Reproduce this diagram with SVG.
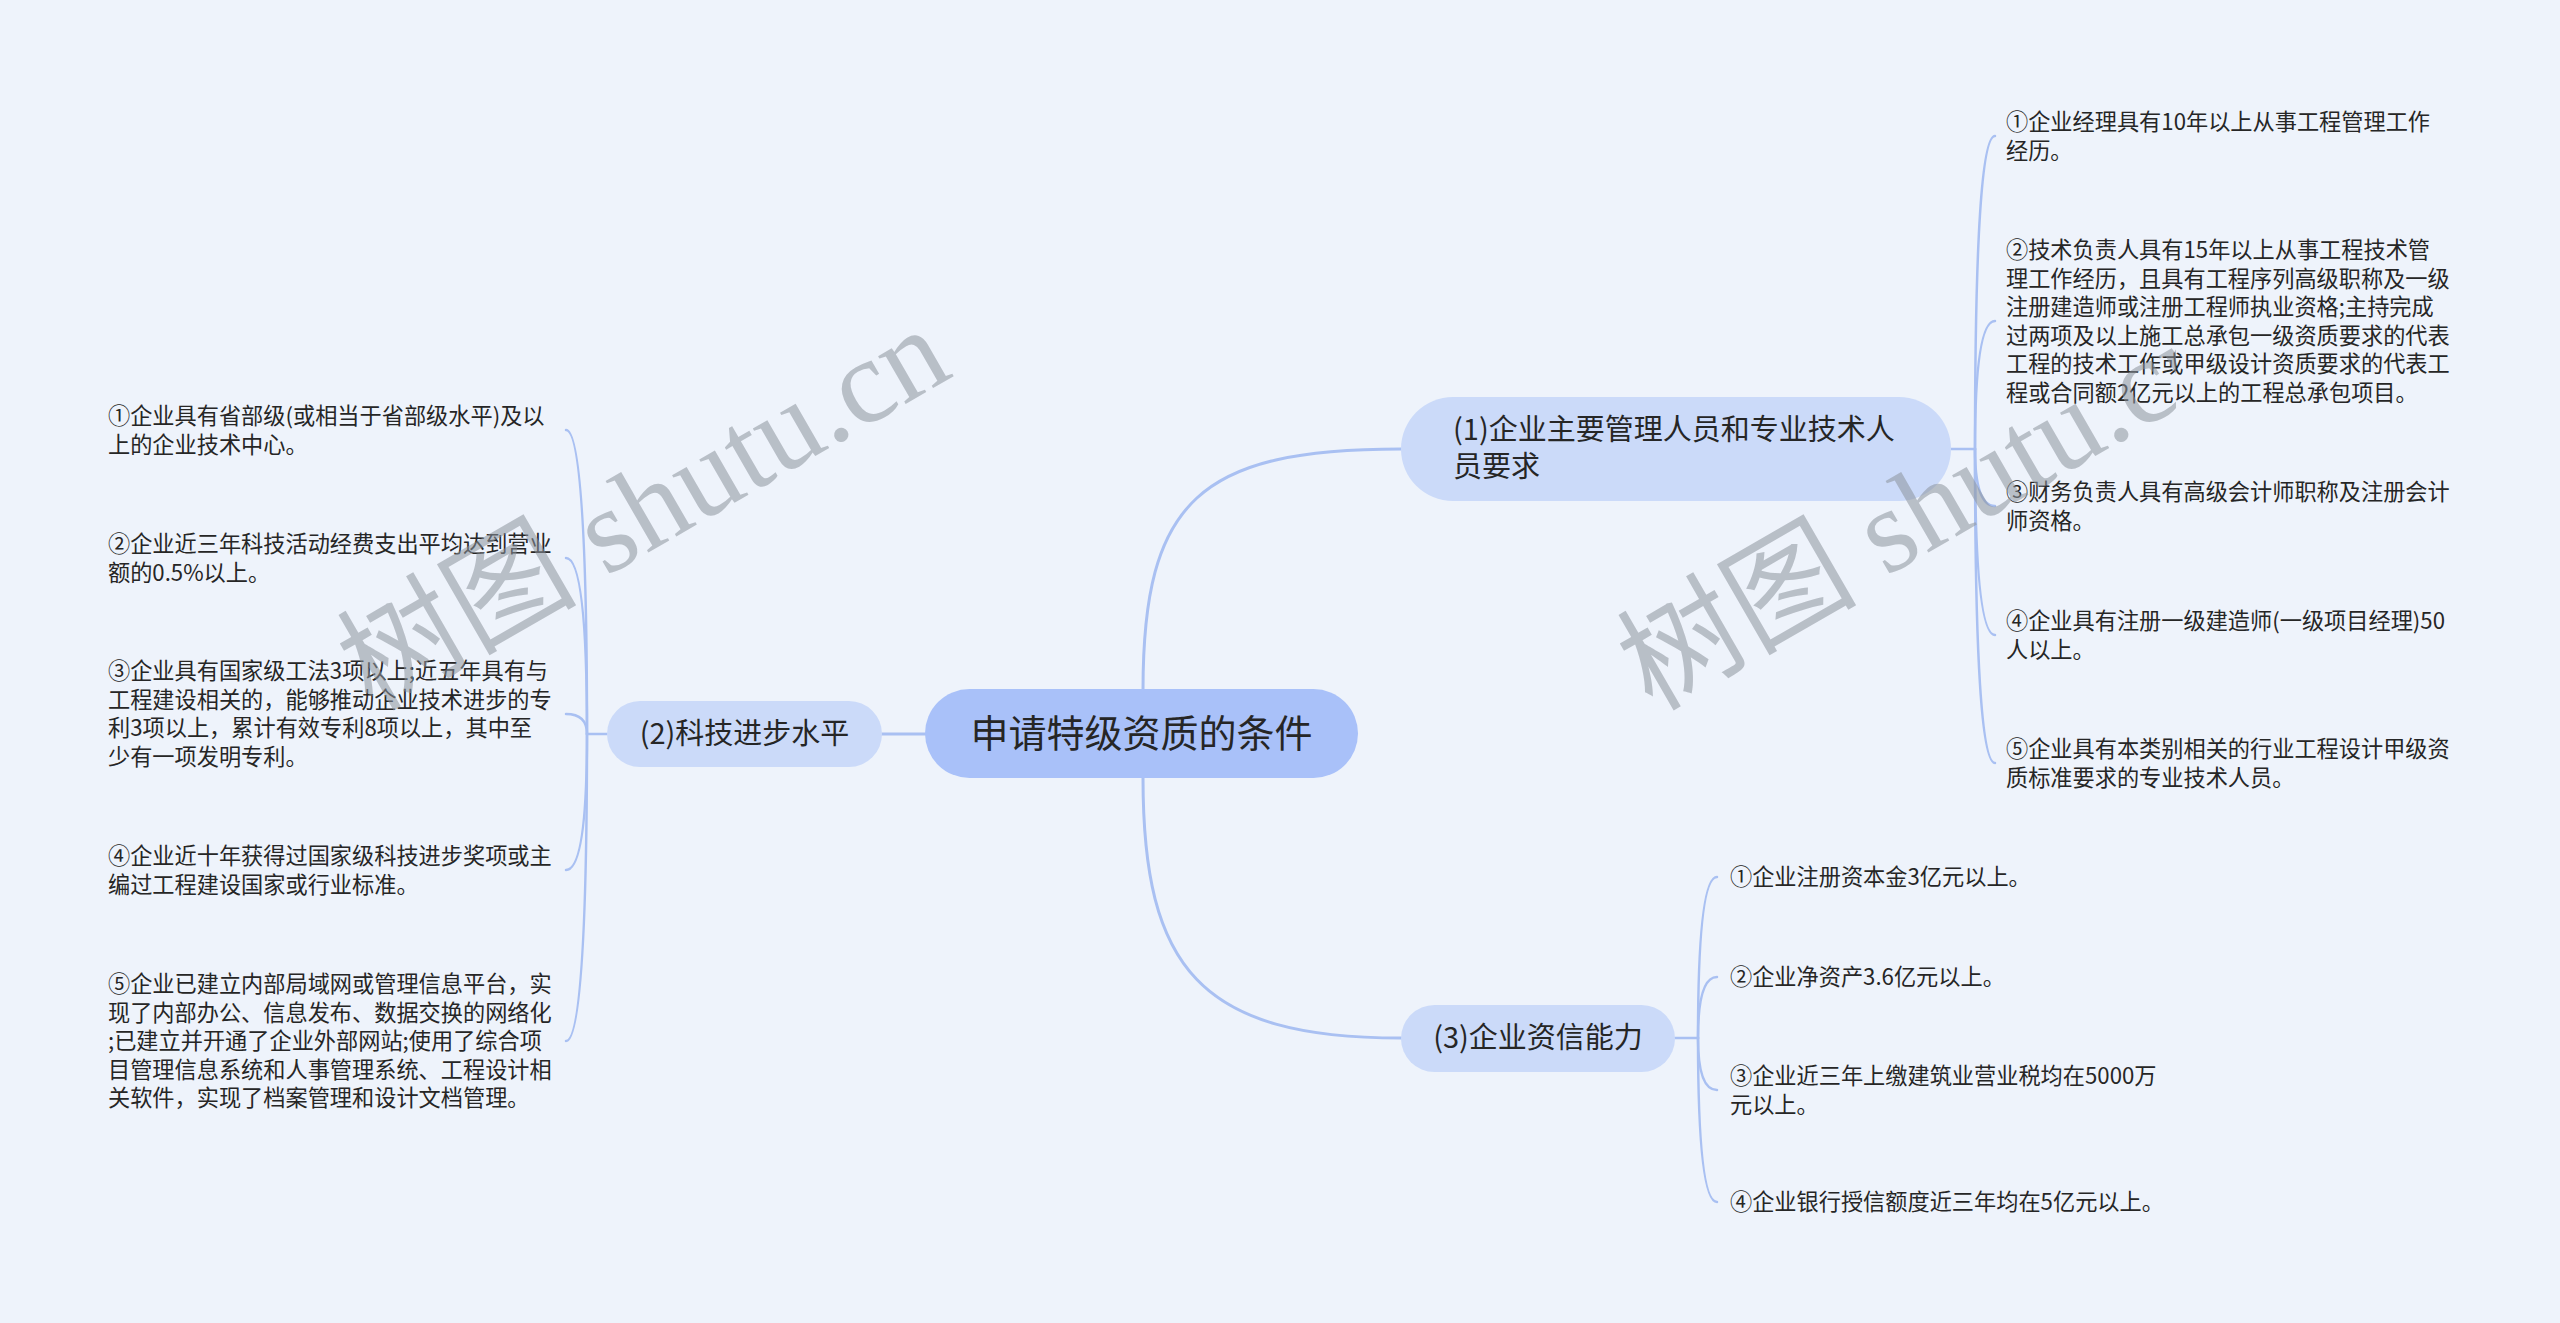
<svg xmlns="http://www.w3.org/2000/svg" width="2560" height="1323" viewBox="0 0 2560 1323">
<style>
.bg{fill:#eef3fb}
.root rect{fill:#a9c1f9}
.branch rect{fill:#cbdaf9}
.root text{font-family:"Noto Sans CJK SC","Noto Sans",sans-serif;font-size:38px;fill:#262626}
.branch text{font-family:"Noto Sans CJK SC","Noto Sans",sans-serif;font-size:29px;fill:#262626}
.leaf text{font-family:"Noto Sans CJK SC","Noto Sans",sans-serif;font-size:22.2px;fill:#262626}
.main{fill:none;stroke:#a9c0f2;stroke-width:3;stroke-linecap:round}
.sub{fill:none;stroke:#a9c0f2;stroke-width:2.5;stroke-linecap:round}
.wm{font-family:"Liberation Serif","Noto Sans CJK SC",serif;font-size:120px;fill:#8d939c;fill-opacity:0.55}
</style>
<defs>
<clipPath id="wmclip"><rect x="0" y="0" width="2176" height="1323"/></clipPath>
</defs>
<rect class="bg" x="0" y="0" width="2560" height="1323"/>
<g id="connectors">
<path class="main" d="M1143,690 C1143,500 1200,449 1401,449"/>
<path class="main" d="M1143,778 C1143,968 1200,1038 1401,1038"/>
<path class="main" d="M925,734 L882,734"/>
<path class="sub" d="M1951,449 L1975,449"/>
<path class="sub" d="M1975,449 Q1975,136 1995,136"/>
<path class="sub" d="M1975,449 Q1975,321 1995,321"/>
<path class="sub" d="M1975,449 Q1975,506 1995,506"/>
<path class="sub" d="M1975,449 Q1975,635 1995,635"/>
<path class="sub" d="M1975,449 Q1975,763 1995,763"/>
<path class="sub" d="M607,734 L587,734"/>
<path class="sub" d="M587,734 Q587,430 566,430"/>
<path class="sub" d="M587,734 Q587,558 566,558"/>
<path class="sub" d="M587,734 Q587,714 566,714"/>
<path class="sub" d="M587,734 Q587,870 566,870"/>
<path class="sub" d="M587,734 Q587,1041 566,1041"/>
<path class="sub" d="M1675,1038 L1698,1038"/>
<path class="sub" d="M1698,1038 Q1698,877 1717,877"/>
<path class="sub" d="M1698,1038 Q1698,977 1717,977"/>
<path class="sub" d="M1698,1038 Q1698,1090 1717,1090"/>
<path class="sub" d="M1698,1038 Q1698,1202 1717,1202"/>
</g>
<g id="root" class="root">
<rect x="925" y="689" width="433" height="89" rx="44.5"/>
<text x="1141.5" y="747" text-anchor="middle">申请特级资质的条件</text>
</g>
<g id="b1" class="branch">
<rect x="1401" y="397" width="550" height="104" rx="52"/>
<text><tspan x="1453" y="440">(1)企业主要管理人员和专业技术人</tspan><tspan x="1453" y="477">员要求</tspan></text>
</g>
<g id="b2" class="branch">
<rect x="607" y="701" width="275" height="66" rx="33"/>
<text x="744.5" y="744" text-anchor="middle">(2)科技进步水平</text>
</g>
<g id="b3" class="branch">
<rect x="1401" y="1005" width="274" height="67" rx="33.5"/>
<text x="1538" y="1048" text-anchor="middle">(3)企业资信能力</text>
</g>
<g id="l1-1" class="leaf"><text><tspan x="2006" y="130">①企业经理具有10年以上从事工程管理工作</tspan><tspan x="2006" y="158.5">经历。</tspan></text></g>
<g id="l1-2" class="leaf"><text><tspan x="2006" y="258">②技术负责人具有15年以上从事工程技术管</tspan><tspan x="2006" y="286.5">理工作经历，且具有工程序列高级职称及一级</tspan><tspan x="2006" y="315">注册建造师或注册工程师执业资格;主持完成</tspan><tspan x="2006" y="343.5">过两项及以上施工总承包一级资质要求的代表</tspan><tspan x="2006" y="372">工程的技术工作或甲级设计资质要求的代表工</tspan><tspan x="2006" y="400.5">程或合同额2亿元以上的工程总承包项目。</tspan></text></g>
<g id="l1-3" class="leaf"><text><tspan x="2006" y="500">③财务负责人具有高级会计师职称及注册会计</tspan><tspan x="2006" y="528.5">师资格。</tspan></text></g>
<g id="l1-4" class="leaf"><text><tspan x="2006" y="629">④企业具有注册一级建造师(一级项目经理)50</tspan><tspan x="2006" y="657.5">人以上。</tspan></text></g>
<g id="l1-5" class="leaf"><text><tspan x="2006" y="757">⑤企业具有本类别相关的行业工程设计甲级资</tspan><tspan x="2006" y="785.5">质标准要求的专业技术人员。</tspan></text></g>
<g id="l2-1" class="leaf"><text><tspan x="108" y="424">①企业具有省部级(或相当于省部级水平)及以</tspan><tspan x="108" y="452.5">上的企业技术中心。</tspan></text></g>
<g id="l2-2" class="leaf"><text><tspan x="108" y="552">②企业近三年科技活动经费支出平均达到营业</tspan><tspan x="108" y="580.5">额的0.5%以上。</tspan></text></g>
<g id="l2-3" class="leaf"><text><tspan x="108" y="679">③企业具有国家级工法3项以上;近五年具有与</tspan><tspan x="108" y="707.5">工程建设相关的，能够推动企业技术进步的专</tspan><tspan x="108" y="736">利3项以上，累计有效专利8项以上，其中至</tspan><tspan x="108" y="764.5">少有一项发明专利。</tspan></text></g>
<g id="l2-4" class="leaf"><text><tspan x="108" y="864">④企业近十年获得过国家级科技进步奖项或主</tspan><tspan x="108" y="892.5">编过工程建设国家或行业标准。</tspan></text></g>
<g id="l2-5" class="leaf"><text><tspan x="108" y="992">⑤企业已建立内部局域网或管理信息平台，实</tspan><tspan x="108" y="1020.5">现了内部办公、信息发布、数据交换的网络化</tspan><tspan x="108" y="1049">;已建立并开通了企业外部网站;使用了综合项</tspan><tspan x="108" y="1077.5">目管理信息系统和人事管理系统、工程设计相</tspan><tspan x="108" y="1106">关软件，实现了档案管理和设计文档管理。</tspan></text></g>
<g id="l3-1" class="leaf"><text><tspan x="1730" y="885">①企业注册资本金3亿元以上。</tspan></text></g>
<g id="l3-2" class="leaf"><text><tspan x="1730" y="985">②企业净资产3.6亿元以上。</tspan></text></g>
<g id="l3-3" class="leaf"><text><tspan x="1730" y="1084">③企业近三年上缴建筑业营业税均在5000万</tspan><tspan x="1730" y="1112.5">元以上。</tspan></text></g>
<g id="l3-4" class="leaf"><text><tspan x="1730" y="1210">④企业银行授信额度近三年均在5亿元以上。</tspan></text></g>
<g id="watermark">
<text class="wm" transform="translate(372,712) rotate(-30)">树图 shutu.cn</text>
<g clip-path="url(#wmclip)"><text class="wm" transform="translate(1652,712) rotate(-30)">树图 shutu.cn</text></g>
</g>
</svg>
